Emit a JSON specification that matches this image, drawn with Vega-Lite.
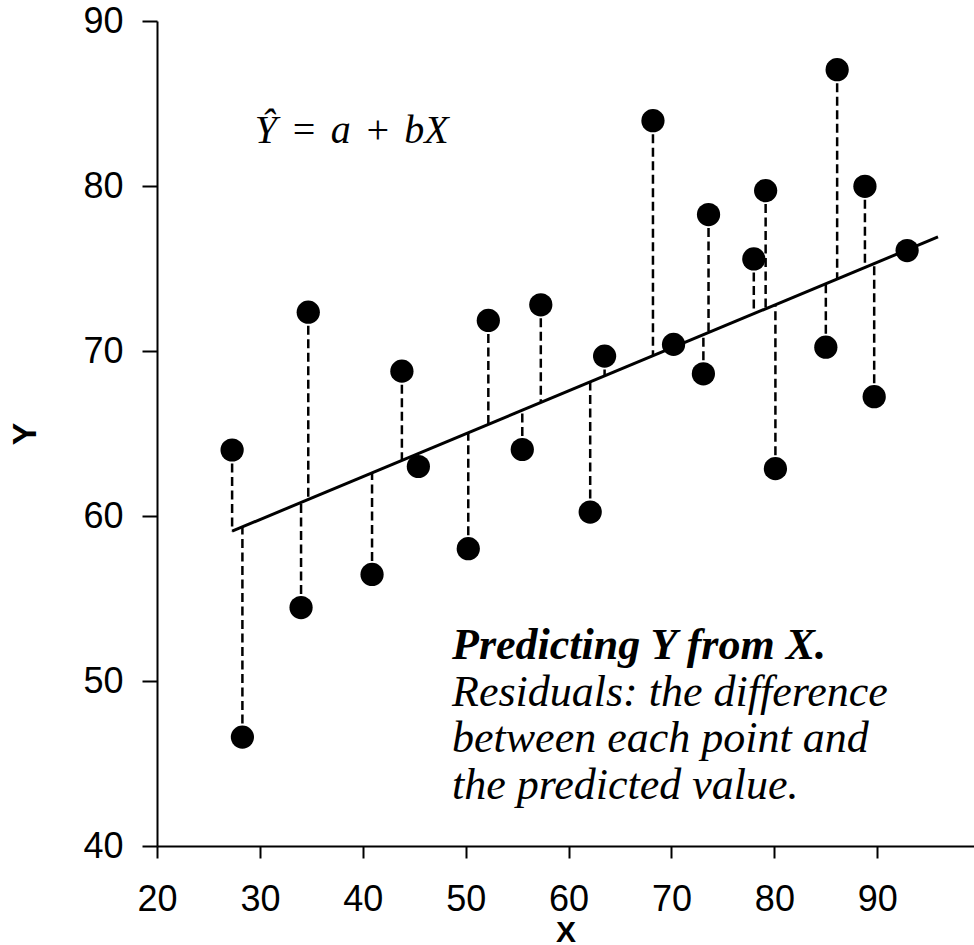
{
  "$schema": "https://vega.github.io/schema/vega-lite/v6.json",
  "autosize": {"type": "none"},
  "padding": {"left": 157, "top": 21, "right": 0, "bottom": 99},
  "width": 817,
  "height": 825,
  "background": "white",
  "config": {
    "view": {"stroke": null},
    "axis": {
      "grid": false,
      "labelFlush": false,
      "domainColor": "black",
      "domainWidth": 2,
      "tickColor": "black",
      "tickWidth": 2,
      "labelColor": "black",
      "labelFont": "Liberation Sans",
      "titleFont": "Liberation Sans",
      "titleColor": "black",
      "titleFontWeight": "bold"
    }
  },
  "datasets": {
    "obs": [
      {"x": 27.3, "y": 64.0, "yhat": 59.08},
      {"x": 28.3, "y": 46.6, "yhat": 59.34},
      {"x": 34.0, "y": 54.45, "yhat": 60.82},
      {"x": 34.7, "y": 72.35, "yhat": 61.0},
      {"x": 40.9, "y": 56.46, "yhat": 62.61},
      {"x": 43.8, "y": 68.78, "yhat": 63.37},
      {"x": 45.4, "y": 63.0, "yhat": 63.78},
      {"x": 50.25, "y": 58.02, "yhat": 65.05},
      {"x": 52.2, "y": 71.85, "yhat": 65.55},
      {"x": 55.5, "y": 64.03, "yhat": 66.41},
      {"x": 57.3, "y": 72.8, "yhat": 66.88},
      {"x": 62.1, "y": 60.24, "yhat": 68.13},
      {"x": 63.5, "y": 69.69, "yhat": 68.49},
      {"x": 68.2, "y": 83.96, "yhat": 69.71},
      {"x": 70.2, "y": 70.4, "yhat": 70.23},
      {"x": 73.1, "y": 68.62, "yhat": 70.99},
      {"x": 73.6, "y": 78.27, "yhat": 71.12},
      {"x": 78.0, "y": 75.58, "yhat": 72.26},
      {"x": 79.15, "y": 79.72, "yhat": 72.56},
      {"x": 80.1, "y": 62.87, "yhat": 72.81},
      {"x": 85.0, "y": 70.23, "yhat": 74.08},
      {"x": 86.1, "y": 87.05, "yhat": 74.37},
      {"x": 88.8, "y": 79.98, "yhat": 75.07},
      {"x": 89.7, "y": 67.23, "yhat": 75.3},
      {"x": 92.9, "y": 76.09, "yhat": 76.13}
    ],
    "fit": [
      {"x": 27.3, "y": 59.08},
      {"x": 95.9, "y": 76.91}
    ],
    "formula": [
      {"x": 29.5, "y": 82.63, "label": "Ŷ\u2004=\u2004a\u2004+\u2004bX"}
    ],
    "heading": [
      {"x": 48.67, "y": 51.32, "label": "Predicting Y from X."}
    ],
    "notes": [
      {"x": 48.67, "y": 48.49, "label": "Residuals: the difference"},
      {"x": 48.67, "y": 45.68, "label": "between each point and"},
      {"x": 48.67, "y": 42.83, "label": "the predicted value."}
    ]
  },
  "encoding": {
    "x": {
      "field": "x",
      "type": "quantitative",
      "scale": {"domain": [20, 99.4], "nice": false, "zero": false},
      "axis": {
        "title": "X",
        "values": [20, 30, 40, 50, 60, 70, 80, 90],
        "tickSize": 12,
        "labelPadding": 24,
        "labelFontSize": 36,
        "titleFontSize": 30,
        "titleBaseline": "alphabetic",
        "titleY": 95
      }
    },
    "y": {
      "field": "y",
      "type": "quantitative",
      "scale": {"domain": [40, 90], "nice": false, "zero": false},
      "axis": {
        "title": "Y",
        "values": [40, 50, 60, 70, 80, 90],
        "tickSize": 15,
        "labelPadding": 19,
        "labelFontSize": 36,
        "titleFontSize": 34,
        "titlePadding": 40
      }
    }
  },
  "layer": [
    {
      "data": {"name": "obs"},
      "mark": {"type": "rule", "color": "black", "strokeWidth": 2.5, "strokeDash": [9, 4.5]},
      "encoding": {"y2": {"field": "yhat"}}
    },
    {
      "data": {"name": "fit"},
      "mark": {"type": "line", "color": "black", "strokeWidth": 3},
      "encoding": {}
    },
    {
      "data": {"name": "obs"},
      "mark": {"type": "circle", "color": "black", "opacity": 1, "size": 540}
    },
    {
      "data": {"name": "formula"},
      "mark": {"type": "text", "font": "Liberation Serif", "fontStyle": "italic", "fontSize": 40, "align": "left", "baseline": "alphabetic", "color": "black"},
      "encoding": {"text": {"field": "label"}}
    },
    {
      "data": {"name": "heading"},
      "mark": {"type": "text", "font": "Liberation Serif", "fontStyle": "italic", "fontWeight": "bold", "fontSize": 44, "align": "left", "baseline": "alphabetic", "color": "black"},
      "encoding": {"text": {"field": "label"}}
    },
    {
      "data": {"name": "notes"},
      "mark": {"type": "text", "font": "Liberation Serif", "fontStyle": "italic", "fontSize": 44, "align": "left", "baseline": "alphabetic", "color": "black"},
      "encoding": {"text": {"field": "label"}}
    }
  ]
}
